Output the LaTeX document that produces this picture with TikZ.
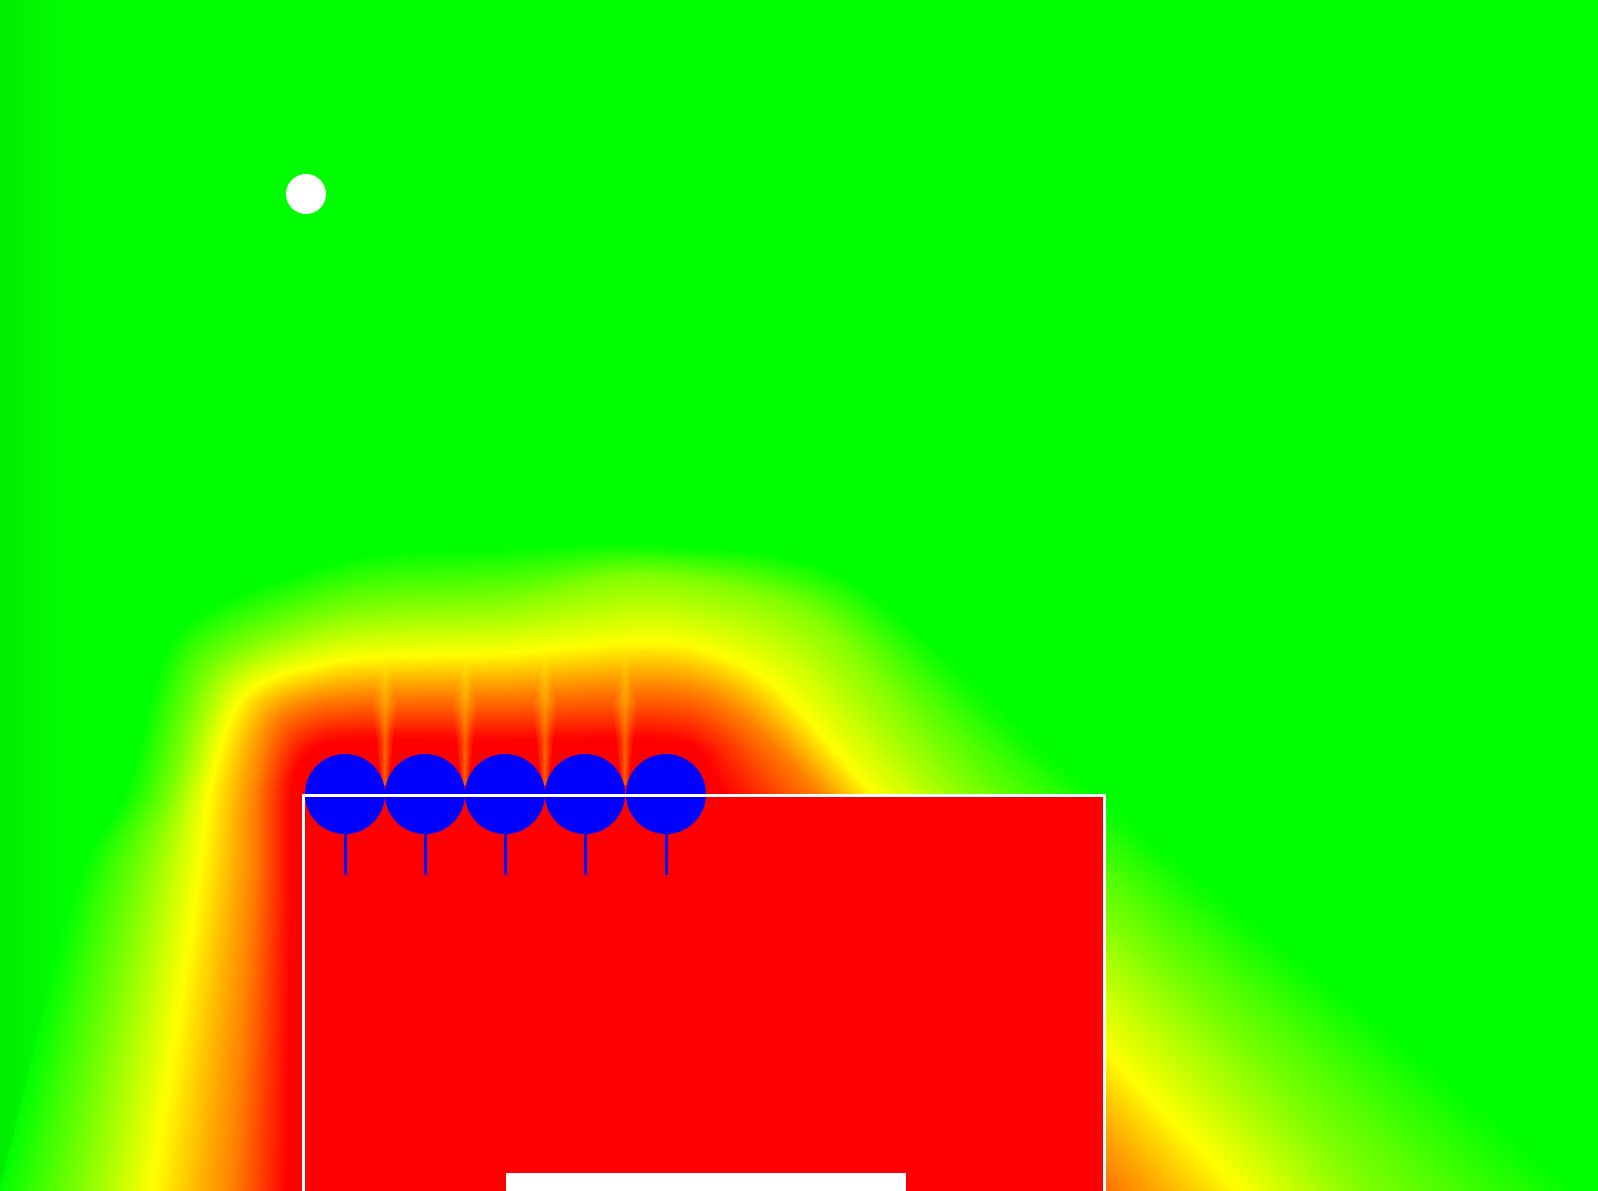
\documentclass[tikz,border=0pt]{standalone}
\usetikzlibrary{calc}
\definecolor{gg}{RGB}{0,255,0}
\definecolor{yy}{RGB}{255,255,0}
\definecolor{rr}{RGB}{255,0,0}
\definecolor{bb}{RGB}{0,0,255}
\begin{document}
\begin{tikzpicture}[x=0.5pt,y=-0.5pt,
  bulb/.style={circle, fill=bb, draw=none, minimum size=40pt, inner sep=0pt},
  stem/.style={bb, line width=1.5pt},
  wall/.style={white, line width=1.5pt},
  spot/.style={circle, fill=white, draw=none, minimum size=20pt, inner sep=0pt},
  ray/.style={fill=yy, fill opacity=0.09}]
\useasboundingbox (0,0) rectangle (1598,1190);
\fill[gg] (-20,-20) rectangle (1620,1210);
\shade[left color=gg!93!black, right color=gg] (-1,-20) rectangle (70,1210);
% contour key points: G = green edge, H = yellow-green, Y = yellow, O = orange, R = red edge
\path (-20,1260) coordinate (G1) (0,1190) coordinate (G2) (75,890) coordinate (G3)
  (127,790) coordinate (G4) (180,630) coordinate (G5) (345,560) coordinate (G6)
  (505,548) coordinate (G7) (660,545) coordinate (G8) (850,580) coordinate (G9)
  (1090,790) coordinate (G10) (1410,1050) coordinate (G11) (1575,1190) coordinate (G12)
  (1680,1260) coordinate (G13) (700,1380) coordinate (G14);
\path (62,1260) coordinate (H1) (80,1190) coordinate (H2) (140,890) coordinate (H3)
  (173,790) coordinate (H4) (215,668) coordinate (H5) (345,612) coordinate (H6)
  (505,600) coordinate (H7) (650,575) coordinate (H8) (820,620) coordinate (H9)
  (970,790) coordinate (H10) (1240,1050) coordinate (H11) (1365,1190) coordinate (H12)
  (1430,1260) coordinate (H13) (700,1360) coordinate (H14);
\path (140,1260) coordinate (Y1) (152,1190) coordinate (Y2) (197,890) coordinate (Y3)
  (213,775) coordinate (Y4) (248,692) coordinate (Y5) (345,660) coordinate (Y6)
  (505,653) coordinate (Y7) (672,643) coordinate (Y8) (770,682) coordinate (Y9)
  (870,790) coordinate (Y10) (1105,1050) coordinate (Y11) (1240,1190) coordinate (Y12)
  (1300,1260) coordinate (Y13) (700,1340) coordinate (Y14);
\path (228,1260) coordinate (O1) (233,1190) coordinate (O2) (253,890) coordinate (O3)
  (256,790) coordinate (O4) (279,719) coordinate (O5) (345,698) coordinate (O6)
  (505,695) coordinate (O7) (666,688) coordinate (O8) (735,712) coordinate (O9)
  (815,790) coordinate (O10) (1012,1050) coordinate (O11) (1118,1190) coordinate (O12)
  (1170,1260) coordinate (O13) (700,1320) coordinate (O14);
\path (287,1260) coordinate (R1) (288,1190) coordinate (R2) (291,890) coordinate (R3)
  (292,790) coordinate (R4) (306,756) coordinate (R5) (345,740) coordinate (R6)
  (505,740) coordinate (R7) (666,740) coordinate (R8) (706,757) coordinate (R9)
  (728,795) coordinate (R10) (935,1050) coordinate (R11) (1035,1190) coordinate (R12)
  (1085,1260) coordinate (R13) (700,1300) coordinate (R14);
\foreach \A/\B/\colA/\colB/\base in {G/H/yy/gg/0, H/Y/yy/gg/50, Y/O/rr/yy/0, O/R/rr/yy/50}{
  \foreach \i in {0,...,19}{
    \pgfmathsetmacro\fr{\i/20}
    \pgfmathsetmacro\mx{\base+50*(\i+0.5)/20}
    \colorlet{cc}{\colA!\mx!\colB}
    \foreach \v in {1,...,14}{\coordinate (p\v) at ($(\A\v)!\fr!(\B\v)$);}
    \fill[cc] plot[smooth cycle] coordinates {(p1) (p2) (p3) (p4) (p5) (p6) (p7) (p8) (p9) (p10) (p11) (p12) (p13) (p14)};
  }
}
\fill[rr] plot[smooth cycle] coordinates {(R1) (R2) (R3) (R4) (R5) (R6) (R7) (R8) (R9) (R10) (R11) (R12) (R13) (R14)};
% soft lighter rays above the gaps between the bulbs
\foreach \x in {385,465,545,625}{
  \foreach \w/\t in {12/700,9/688,6/676,4/668,2/660}{
    \fill[ray] (\x-0.3*\w,785) -- (\x-\w,\t) -- (\x,\t-8) -- (\x+\w,\t) -- (\x+0.3*\w,785) -- cycle;
  }
}
% main block
\fill[rr] (303.5,795.5) rectangle (1104.5,1250);
% bulbs and stems
\foreach \n/\x in {1/345,2/425,3/505,4/585,5/666}{
  \node[bulb] (b\n) at (\x,794) {};
  \coordinate (s\n) at (\x,875);
  \draw[stem] (b\n.south) -- (s\n);
}
\draw[wall] (303.5,1250) -- (303.5,795.5) -- (1104.5,795.5) -- (1104.5,1250);
\fill[white] (506,1173) rectangle (906,1210);
\node[spot] (dot) at (306,194) {};
\end{tikzpicture}
\end{document}
